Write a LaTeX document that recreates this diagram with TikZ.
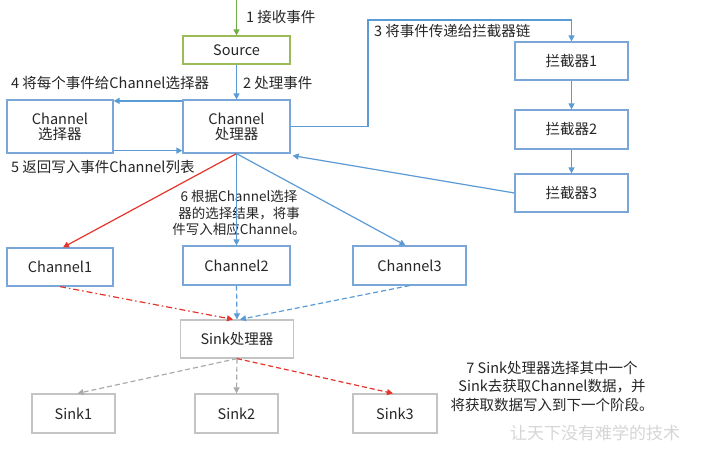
\documentclass[tikz,border=0pt]{standalone}
\usepackage{fontspec}
\setmainfont{Noto Sans CJK SC}
\usetikzlibrary{arrows.meta,calc}
\definecolor{bl}{HTML}{5B9BD5}
\definecolor{bbox}{HTML}{7AA7D8}
\definecolor{gn}{HTML}{70AD47}
\definecolor{gbox}{HTML}{9BBB59}
\definecolor{rd}{HTML}{E5352B}
\definecolor{gr}{HTML}{ABABAB}
\definecolor{gbx}{HTML}{C4C4C4}
\definecolor{txt}{HTML}{262626}
\definecolor{wm}{HTML}{D6D6D6}
\tikzset{
  box/.style={draw=bbox, line width=1.2pt, fill=white, inner sep=0pt, align=center,
    text=txt, font=\fontsize{14.5}{16}\selectfont},
  sinkbox/.style={box, draw=gbx},
  srcbox/.style={box, draw=gbox},
  lbl/.style={text=txt, font=\fontsize{14.5}{16}\selectfont, inner sep=0pt},
  arr/.style={-{Triangle[width=6pt,length=6pt]}, line width=1.2pt},
  bla/.style={arr, draw=bl},
  rda/.style={arr, draw=rd},
  gra/.style={arr, draw=gr},
  dsh/.style={dash pattern=on 5pt off 3pt},
  dshdot/.style={dash pattern=on 6pt off 3pt on 1.5pt off 3pt},
}
\begin{document}
\begin{tikzpicture}[x=1pt,y=-1pt]
\useasboundingbox (0,0) rectangle (715,456);
\fill[white] (0,0) rectangle (715,456);

% nodes
\node[srcbox, minimum width=107pt, minimum height=28pt] (src) at (236.5,50) {Source};
\node[box, minimum width=107pt, minimum height=53pt] (proc) at (236.5,126.5) {Channel\\[-1pt]处理器};
\node[box, minimum width=106pt, minimum height=53pt] (sel) at (60,126.5) {Channel\\[-1pt]选择器};
\node[box, minimum width=113pt, minimum height=38pt] (i1) at (571.5,61) {拦截器1};
\node[box, minimum width=113pt, minimum height=39pt] (i2) at (571.5,129.5) {拦截器2};
\node[box, minimum width=113pt, minimum height=38pt] (i3) at (571.5,193) {拦截器3};
\node[box, minimum width=106pt, minimum height=38pt] (ch1) at (60,267) {Channel1};
\node[box, minimum width=107pt, minimum height=39pt] (ch2) at (236.5,265.5) {Channel2};
\node[box, minimum width=113pt, minimum height=39pt] (ch3) at (409.5,265.5) {Channel3};
\node[sinkbox, minimum width=113pt, minimum height=38pt] (sp) at (237,339) {Sink处理器};
\node[sinkbox, minimum width=83pt, minimum height=39pt] (s1) at (73.5,413.5) {Sink1};
\node[sinkbox, minimum width=83pt, minimum height=39pt] (s2) at (236.5,413.5) {Sink2};
\node[sinkbox, minimum width=84pt, minimum height=39pt] (s3) at (395,413.5) {Sink3};

\coordinate (in) at (236.5,0);
\coordinate (c3) at (368,20);

% labels
\node[lbl, anchor=west] (l1) at (246,17) {1 接收事件};
\node[lbl, anchor=west] (l2) at (243,83) {2 处理事件};
\node[lbl, anchor=west] (l4) at (11,83) {4 将每个事件给Channel选择器};
\node[lbl, anchor=west] (l5) at (11,167) {5 返回写入事件Channel列表};
\node[lbl, anchor=west] (l3) at (374,31) {3 将事件传递给拦截器链};
\node[lbl, align=center, font=\fontsize{13.5}{16.5}\selectfont] (l6) at (239,213) {6 根据Channel选择\\器的选择结果，将事\\件写入相应Channel。};
\node[lbl, align=center, font=\fontsize{14.5}{18.5}\selectfont] (l7) at (552,386.5) {7 Sink处理器选择其中一个\\Sink去获取Channel数据，并\\将获取数据写入到下一个阶段。};
\node[lbl, text=wm, font=\fontsize{17}{18}\selectfont] (wmk) at (595,433) {让天下没有难学的技术};

% connectors
\draw[arr, draw=gn] (in) -- (src.north);
\draw[bla] (src.south) -- (proc.north);
\draw[bla] ([yshift=-1.5pt]proc.north west) -- ([yshift=-1.5pt]sel.north east);
\draw[bla] ([yshift=3pt]sel.south east) -- ([yshift=3pt]proc.south west);
\draw[bla] (proc.east) -| (c3) -| (i1.north);
\draw[bla] (i1.south) -- (i2.north);
\draw[bla] (i2.south) -- (i3.north);
\draw[bla] (i3.west) -- ([xshift=2pt,yshift=-2pt]proc.south east);
\draw[rda] (proc.south) -- ([xshift=3pt]ch1.north);
\draw[bla] (proc.south) -- (ch2.north);
\draw[bla] (proc.south) -- ([xshift=-4pt]ch3.north);
\draw[rda, dshdot] ([xshift=0pt]ch1.south) -- ([xshift=-4pt]sp.north);
\draw[bla, dsh] (ch2.south) -- (sp.north);
\draw[bla, dsh] (ch3.south) -- ([xshift=3pt]sp.north);
\draw[gra, dsh] (sp.south) -- ([xshift=4pt]s1.north);
\draw[gra, dsh] (sp.south) -- (s2.north);
\draw[rda, dsh] (sp.south) -- ([xshift=-2pt]s3.north);
\end{tikzpicture}
\end{document}
